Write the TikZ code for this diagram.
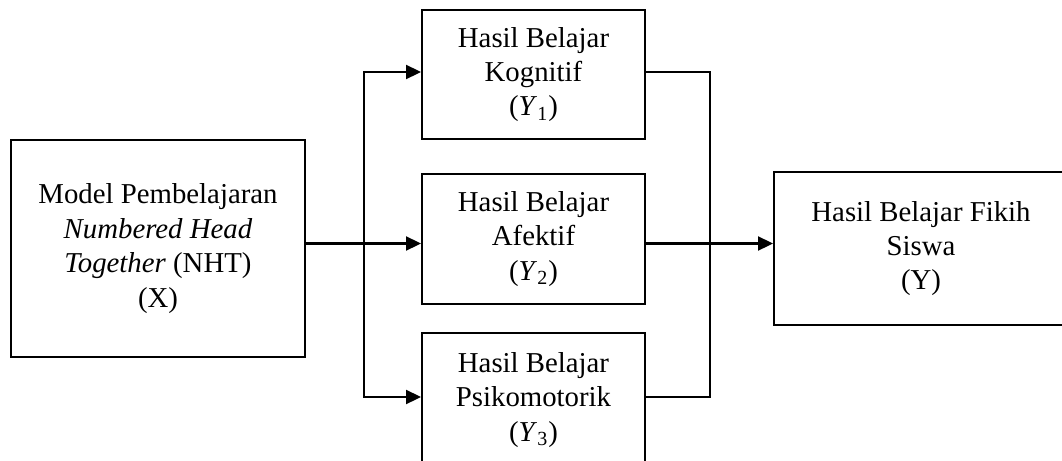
\documentclass[tikz,border=0pt]{standalone}
\usepackage{fontspec}
\setmainfont{Liberation Serif}
\usetikzlibrary{arrows.meta}
\begin{document}
\begin{tikzpicture}[x=0.5pt,y=-0.5pt,
  box/.style={draw=black,line width=1pt,rectangle,align=center,inner sep=0pt,
    font=\fontsize{14.4}{17.2}\selectfont},
  conn/.style={draw=black,line width=1.15pt},
  arr/.style={conn,-{Triangle[length=7.5pt,width=7pt]}}]
\useasboundingbox (0,0) rectangle (1062,461);
\node[box,minimum width=294\pgflinewidth*0+147pt,minimum height=108.5pt] (X) at (158,248.5)
  {Model Pembelajaran\\ \textit{Numbered Head}\\ \textit{Together} (NHT)\\ (X)};
\node[box,minimum width=111.5pt,minimum height=64.5pt] (Y1) at (533.5,74.5)
  {Hasil Belajar\\ Kognitif\\ (\textit{Y}\textsubscript{1})};
\node[box,minimum width=111.5pt,minimum height=65pt] (Y2) at (533.5,239)
  {Hasil Belajar\\ Afektif\\ (\textit{Y}\textsubscript{2})};
\node[box,minimum width=111.5pt,minimum height=67pt] (Y3) at (533.5,400)
  {Hasil Belajar\\ Psikomotorik\\ (\textit{Y}\textsubscript{3})};
\node[box,minimum width=147pt,minimum height=76.5pt] (Y) at (921,248.5)
  {Hasil Belajar Fikih\\ Siswa\\ (Y)};
\coordinate (s) at (364,243.5);
\coordinate (sT) at (364,72);
\coordinate (sB) at (364,397);
\coordinate (j) at (710,243.5);
\coordinate (jT) at (710,72);
\coordinate (jB) at (710,397);
\draw[arr] (X.east |- s) -- (Y2.west |- s);
\draw[arr] (s) -- (sT) -- (Y1.west |- sT);
\draw[arr] (s) -- (sB) -- (Y3.west |- sB);
\draw[conn] (Y1.east |- jT) -- (jT) -- (jB) -- (Y3.east |- jB);
\draw[arr] (Y2.east |- j) -- (Y.west |- j);
\end{tikzpicture}
\end{document}
